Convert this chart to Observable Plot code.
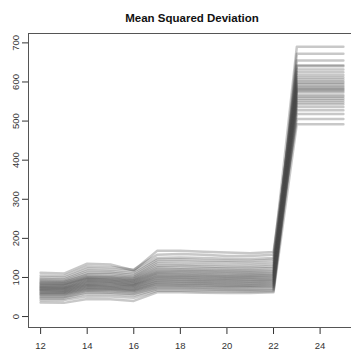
<!DOCTYPE html>
<html>
<head>
<meta charset="utf-8">
<script src="https://cdn.jsdelivr.net/npm/d3@7"></script>
<script src="https://cdn.jsdelivr.net/npm/@observablehq/plot@0.6"></script>
<style>
  html, body { margin: 0; padding: 0; background: #fff; }
  #chart svg { display: block; }
</style>
</head>
<body>
<div id="chart"></div>
<script>
const title = "Mean Squared Deviation";
const xValues = [12, 13, 14, 15, 16, 17, 18, 19, 20, 21, 22, 23, 24, 25];
const xTicks = [12, 14, 16, 18, 20, 22, 24];
const yTicks = [0, 100, 200, 300, 400, 500, 600, 700];

// one row per simulated run: values at x = 12 … 25
const runs = [
  [112, 110, 135, 133, 118, 168, 168, 166, 164, 162, 165, 612, 612, 612],
  [105, 104, 128, 127, 120, 158, 160, 158, 155, 155, 158, 583, 583, 583],
  [100,  99, 122, 121, 115, 150, 151, 150, 148, 147, 150, 690, 690, 690],
  [ 96,  95, 117, 116, 110, 145, 146, 144, 143, 142, 145, 548, 548, 548],
  [ 93,  92, 112, 112, 106, 140, 140, 139, 138, 137, 139, 625, 625, 625],
  [ 90,  89, 108, 108, 102, 135, 134, 133, 132, 131, 133, 566, 566, 566],
  [ 88,  88, 105, 104, 100, 130, 130, 128, 127, 126, 128, 640, 640, 640],
  [ 86,  85, 102, 101,  97, 126, 125, 124, 123, 122, 124, 505, 505, 505],
  [ 84,  83, 100,  99,  95, 122, 121, 120, 119, 118, 120, 598, 598, 598],
  [ 82,  82,  98,  97,  93, 118, 118, 117, 116, 115, 116, 655, 655, 655],
  [ 80,  80,  96,  95,  91, 115, 115, 114, 113, 112, 113, 573, 573, 573],
  [ 78,  78,  94,  93,  89, 112, 112, 111, 110, 109, 110, 536, 536, 536],
  [ 76,  76,  92,  91,  87, 110, 109, 108, 107, 106, 107, 607, 607, 607],
  [ 75,  74,  90,  89,  85, 107, 106, 105, 104, 104, 105, 590, 590, 590],
  [ 73,  73,  88,  87,  83, 104, 104, 103, 102, 101, 102, 672, 672, 672],
  [ 72,  71,  86,  85,  81, 102, 101, 100,  99,  99, 100, 558, 558, 558],
  [ 70,  70,  84,  83,  80,  99,  99,  98,  97,  96,  97, 618, 618, 618],
  [ 68,  68,  82,  81,  78,  97,  96,  95,  94,  94,  95, 580, 580, 580],
  [ 67,  66,  80,  79,  76,  94,  94,  93,  92,  91,  92, 632, 632, 632],
  [ 65,  64,  78,  77,  74,  92,  91,  90,  89,  89,  90, 528, 528, 528],
  [ 63,  63,  76,  75,  72,  89,  89,  88,  87,  86,  87, 602, 602, 602],
  [ 61,  61,  74,  73,  70,  87,  86,  85,  84,  84,  85, 562, 562, 562],
  [ 59,  59,  72,  71,  68,  84,  84,  83,  82,  81,  82, 594, 594, 594],
  [ 57,  57,  70,  69,  66,  82,  81,  80,  79,  79,  80, 518, 518, 518],
  [ 55,  55,  68,  67,  64,  79,  79,  78,  77,  76,  77, 586, 586, 586],
  [ 52,  52,  65,  64,  61,  76,  76,  75,  74,  74,  75, 643, 643, 643],
  [ 49,  49,  62,  61,  58,  73,  73,  72,  71,  70,  71, 553, 553, 553],
  [ 46,  46,  58,  57,  54,  70,  70,  69,  68,  67,  68, 577, 577, 577],
  [ 42,  42,  52,  51,  48,  66,  66,  65,  65,  64,  65, 543, 543, 543],
  [ 36,  35,  45,  44,  40,  62,  62,  61,  60,  60,  62, 492, 492, 492]
];

const rows = runs.flatMap((vals, run) => vals.map((v, i) => ({run, x: xValues[i], y: v})));

const chart = Plot.plot({
  width: 351,
  height: 350,
  marginLeft: 28,
  marginRight: -4,
  marginTop: 33,
  marginBottom: 23,
  style: {fontFamily: "'Liberation Sans', Arial, sans-serif", fontSize: "9.5px", color: "#333", background: "#fff"},
  x: {domain: [11.48, 25.52], ticks: xTicks, tickSize: 7, tickPadding: 8, label: null},
  y: {domain: [-28, 724], ticks: yTicks, tickSize: 6, tickPadding: 4, tickRotate: -90, label: null},
  marks: [
    Plot.line(rows, {x: "x", y: "y", z: "run", stroke: "#4a4a4a", strokeOpacity: 0.3, strokeWidth: 2.5}),
    Plot.frame({stroke: "#555"}),
    Plot.text([title], {frameAnchor: "top", dy: -20, text: d => d, fontWeight: "bold", fontSize: 11.5, fill: "#111"})
  ]
});
document.getElementById("chart").appendChild(chart);
</script>
</body>
</html>
